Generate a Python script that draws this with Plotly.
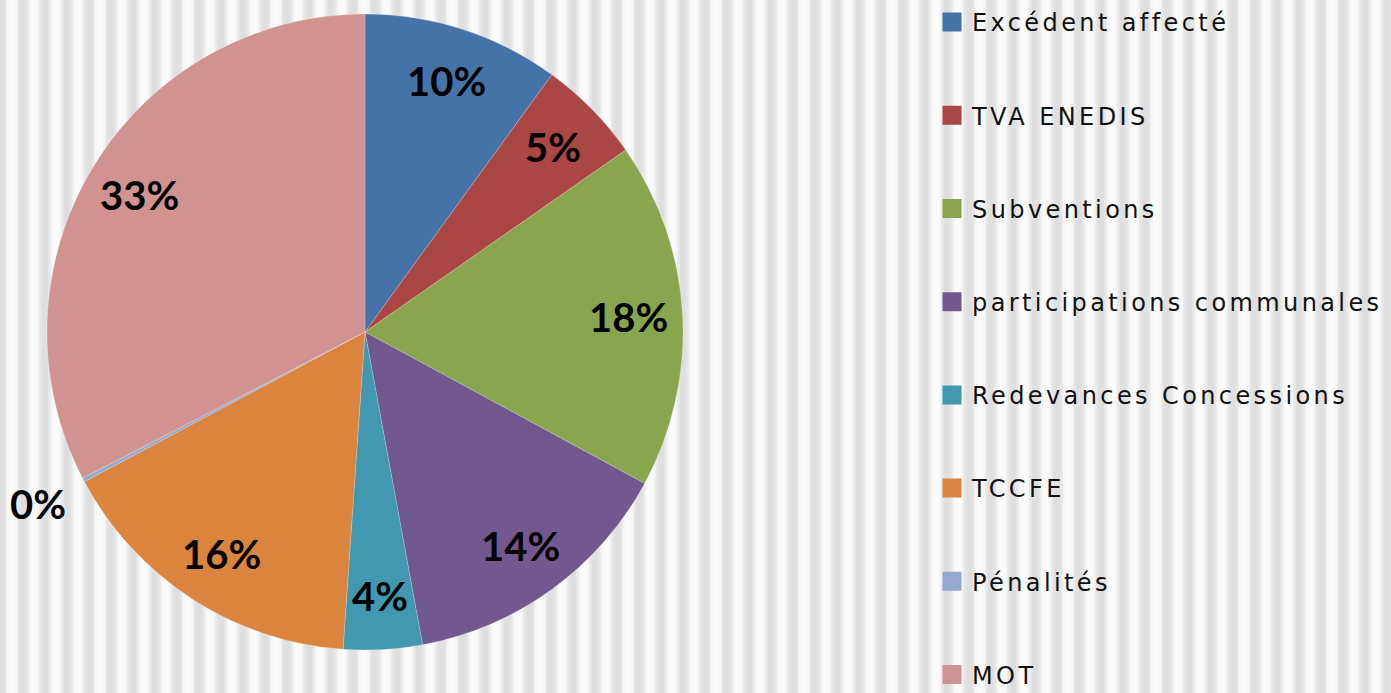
import math
import plotly.graph_objects as go

categories = ["Excédent affecté", "TVA ENEDIS", "Subventions", "participations communales",
              "Redevances Concessions", "TCCFE", "Pénalités", "MOT"]
values = [10.0, 5.3, 17.6, 14.2, 4.0, 16.1, 0.2, 32.6]
colors = ["#4572A7", "#AA4643", "#89A54E", "#71588F", "#4198AF", "#DB843D", "#93A9CF", "#D19392"]

W, H = 1391, 693
# pie geometry (pixels)
CX, CY, R = 365, 332, 318

fig = go.Figure()

# background stripes (decoration)
shapes = [dict(type="rect", xref="paper", yref="paper", x0=0, x1=1, y0=0, y1=1,
               fillcolor="#ececec", line=dict(width=0), layer="below")]
period = 22
x = -4
while x < W:
    for off, wd, col, op in [(0, 10, "#d8d8d8", 0.3), (2, 6, "#d2d2d2", 0.3),
                             (11, 10, "#ffffff", 0.5), (13, 6, "#ffffff", 0.5)]:
        shapes.append(dict(type="rect", xref="paper", yref="paper",
                           x0=(x + off) / W, x1=(x + off + wd) / W, y0=0, y1=1,
                           fillcolor=col, opacity=op, line=dict(width=0), layer="below"))
    x += period

fig.add_trace(go.Pie(
    labels=categories, values=values, sort=False, direction="clockwise", rotation=0,
    marker=dict(colors=colors, line=dict(width=0.5, color="rgba(255,255,255,0.4)")),
    textinfo="none",
    domain=dict(x=[(CX - R) / W, (CX + R) / W], y=[(H - CY - R) / H, (H - CY + R) / H]),
    showlegend=False, hoverinfo="label+percent",
))

# percentage labels placed along each slice bisector
total = sum(values)
annotations = []
cum = 0.0
for v in values:
    mid = (cum + v / 2) / total * 2 * math.pi
    cum += v
    pct = v / total * 100
    rf = 0.83 if pct >= 1 else 1.16
    px = CX + rf * R * math.sin(mid)
    py = CY - rf * R * math.cos(mid)
    annotations.append(dict(x=px / W, y=1 - py / H, xref="paper", yref="paper",
                            text="<b>%d%%</b>" % round(pct), showarrow=False,
                            font=dict(family="Lato", size=40, color="black"),
                            xanchor="center", yanchor="middle"))

for name, c in zip(categories, colors):
    fig.add_trace(go.Scatter(x=[None], y=[None], mode="markers",
                             name="<span style='letter-spacing:3.4px'>%s</span>" % name,
                             legendgroup=name,
                             marker=dict(symbol="square", size=16, color=c,
                                         line=dict(width=3, color=c))))

fig.update_layout(
    width=W, height=H,
    margin=dict(l=0, r=0, t=0, b=0),
    paper_bgcolor="#ececec", plot_bgcolor="rgba(0,0,0,0)",
    shapes=shapes, annotations=annotations,
    xaxis=dict(visible=False), yaxis=dict(visible=False),
    showlegend=True,
    legend=dict(x=932 / W, y=1, xanchor="left", yanchor="top",
                bgcolor="rgba(0,0,0,0)", tracegroupgap=59, maxheight=2000,
                font=dict(family="DejaVu Sans", size=24, color="#111111"),
                itemsizing="trace"),
)

fig.write_html("out.html", config={"displayModeBar": False},
               post_script="document.body.style.margin='0';")
